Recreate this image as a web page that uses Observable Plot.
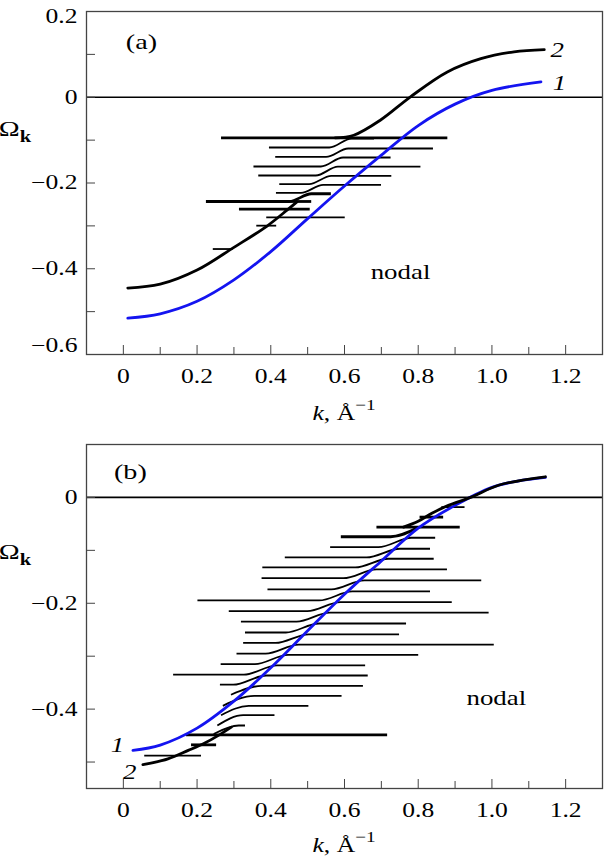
<!DOCTYPE html>
<html><head><meta charset="utf-8">
<script src="https://cdn.jsdelivr.net/npm/d3@7"></script>
<script src="https://cdn.jsdelivr.net/npm/@observablehq/plot@0.6"></script>
<style>
body{margin:0;background:#fff;}
#chart{width:605px;}
#chart svg{display:block;}
</style></head><body><div id="chart"></div>
<script>
// ---------- axes ----------
const xMajor = [0, 0.2, 0.4, 0.6, 0.8, 1.0, 1.2];
const xMinor = [0.1, 0.3, 0.5, 0.7, 0.9, 1.1];
const yMajorA = [0.2, 0, -0.2, -0.4, -0.6];
const yMinorA = [0.1, -0.1, -0.3, -0.5];
const yMajorB = [0, -0.2, -0.4];
const yMinorB = [-0.1, -0.3, -0.5];

// ---------- panel (a) ----------
const a1K = [0.012, 0.1, 0.2, 0.3, 0.4, 0.5, 0.6, 0.7, 0.8, 0.9, 1.0, 1.133];
const a1W = [-0.515, -0.505, -0.476, -0.426, -0.360, -0.283, -0.207, -0.135, -0.066, -0.016, 0.016, 0.036];
const a2LowK = [0.012, 0.1, 0.2, 0.3, 0.389, 0.444, 0.471];
const a2LowW = [-0.445, -0.436, -0.403, -0.350, -0.301, -0.2634, -0.244];
const a2UpK = [0.575, 0.625, 0.697, 0.779, 0.879, 0.970, 1.060, 1.142];
const a2UpW = [-0.0948, -0.0886, -0.0536, 0.001, 0.059, 0.090, 0.106, 0.111];
const aStepKL = [0.265, 0.395, 0.412, 0.353, 0.366, 0.423, 0.414, 0.224];
const aStepKR = [0.879, 0.680, 0.840, 0.725, 0.806, 0.727, 0.699, 0.563];
const aStepWL = [-0.0948, -0.1172, -0.1391, -0.1615, -0.1825, -0.2028, -0.2231, -0.2431];
const aStepWR = [-0.0948, -0.0965, -0.1195, -0.1405, -0.1620, -0.1834, -0.2044, -0.2251];
const aStepKS = [0.600, 0.589, 0.580, 0.566, 0.552, 0.534, 0.512, 0.480];
const aStepThick = [1, 0, 0, 0, 0, 0, 0, 1];
const aFlatK1 = [0.315, 0.389, 0.244, 0.362, 0.440];
const aFlatK2 = [0.507, 0.602, 0.298, 0.416, 0.511];
const aFlatW = [-0.2611, -0.2804, -0.354, -0.2995, -0.2431];
const aFlatThick = [1, 0, 0, 0, 1];

// ---------- panel (b) ----------
const b1K = [0.026, 0.1, 0.2, 0.3, 0.4, 0.5, 0.6, 0.7, 0.8, 0.9, 1.0, 1.07, 1.145];
const b1W = [-0.478, -0.468, -0.436, -0.385, -0.322, -0.252, -0.183, -0.120, -0.058, -0.015, 0.019, 0.031, 0.038];
const b2LowK = [0.053, 0.121, 0.176, 0.221, 0.257, 0.293];
const b2LowW = [-0.505, -0.494, -0.478, -0.464, -0.450, -0.434];
const b2UpK = [0.76, 0.80, 0.837, 0.882, 0.946, 1.018, 1.145];
const b2UpW = [-0.0561, -0.045, -0.030, -0.015, 0.001, 0.023, 0.039];
const bStepKL = [0.590, 0.561, 0.438, 0.377, 0.375, 0.391, 0.201, 0.286, 0.319, 0.330, 0.325, 0.307, 0.264, 0.135, 0.262, 0.292, 0.270, 0.265, 0.255, 0.245];
const bStepKR = [0.800, 0.846, 0.832, 0.842, 0.878, 0.971, 0.832, 0.891, 0.991, 0.767, 0.748, 1.005, 0.800, 0.656, 0.663, 0.650, 0.592, 0.502, 0.410, 0.330];
const bStepWL = [-0.0743, -0.0940, -0.1134, -0.1323, -0.1526, -0.1739, -0.1947, -0.2149, -0.2348, -0.2552, -0.2750, -0.2953, -0.3151, -0.3350, -0.3539, -0.3728, -0.3938, -0.4115, -0.4310, -0.4470];
const bStepWR = [-0.0570, -0.0762, -0.0970, -0.1159, -0.1361, -0.1569, -0.1777, -0.1979, -0.2178, -0.2382, -0.2586, -0.2783, -0.2974, -0.3172, -0.3365, -0.3560, -0.3749, -0.3938, -0.4115, -0.4310];
const bStepKS = [0.770, 0.737, 0.705, 0.674, 0.642, 0.609, 0.576, 0.544, 0.515, 0.486, 0.458, 0.431, 0.402, 0.372, 0.343, 0.330, 0.310, 0.295, 0.280, 0.268];
const bStepThick = [1, 0, 0, 0, 0, 0, 0, 0, 0, 0, 0, 0, 0, 0, 0, 0, 0, 0, 0, 0];
const bFlatK1 = [0.864, 0.805, 0.688, 0.171, 0.185, 0.058];
const bFlatK2 = [0.927, 0.869, 0.914, 0.717, 0.253, 0.212];
const bFlatW = [-0.0183, -0.0372, -0.0561, -0.4486, -0.4675, -0.4877];
const bFlatThick = [0, 1, 1, 1, 1, 0];

// ---------- helpers ----------
const BLUE = "#1414f0";
const FONT = "'Liberation Serif','Times New Roman',serif";
const pts = (K, W) => K.map((k, i) => ({k, w: W[i]}));
function stepRows(KL, KR, WL, WR, KS, TH, half) {
  const rows = [];
  KL.forEach((kl, i) => {
    const p = [[kl, WL[i]]];
    if (WL[i] !== WR[i]) {
      const a = KS[i] - half, b = KS[i] + half;
      if (a > kl + 0.005) p.push([a, WL[i]]);
      if (b < KR[i] - 0.005) p.push([b, WR[i]]);
    }
    p.push([KR[i], WR[i]]);
    p.forEach(([k, w]) => rows.push({line: i, k, w, thick: TH[i]}));
  });
  return rows;
}
const flatRows = (K1, K2, W, TH) => K1.map((k1, i) => ({k1, k2: K2[i], w: W[i], thick: TH[i]}));
const fmtX = d => d === 0 ? "0" : d.toFixed(1);
const fmtY = d => d === 0 ? "0" : (d < 0 ? "\u2212" : "") + Math.abs(d).toFixed(1);

function axesMarks(yMajor, yMinor, labelAdj) {
  const plain = yMajor.filter(v => !(String(v) in labelAdj));
  const marks = [
    Plot.axisX(xMajor, {anchor: "bottom", tickSize: 9, dy: -9, tickFormat: () => "", label: null, stroke: "#444"}),
    Plot.axisX(xMinor, {anchor: "bottom", tickSize: 7, dy: -7, tickFormat: () => "", label: null, stroke: "#444"}),
    Plot.axisX(xMajor, {anchor: "bottom", tickSize: 0, tickPadding: 14, tickFormat: fmtX, label: null, fontSize: 20}),
    Plot.axisY(yMajor, {anchor: "left", tickSize: 9, dx: 9, tickFormat: () => "", label: null, stroke: "#444"}),
    Plot.axisY(yMinor, {anchor: "left", tickSize: 9, dx: 9, tickFormat: () => "", label: null, stroke: "#444"}),
    Plot.axisY(plain, {anchor: "left", tickSize: 0, tickPadding: 9, tickFormat: fmtY, label: null, fontSize: 20})
  ];
  for (const v in labelAdj) {
    marks.push(Plot.axisY([+v], {anchor: "left", tickSize: 0, tickPadding: 9, tickFormat: fmtY, label: null, fontSize: 20, dy: labelAdj[v]}));
  }
  return marks;
}

function panel({height, mt, mb, yDomain, yMajor, yMinor, labelAdj, steps, flats, c1, c2parts, blueOnTop, texts}) {
  const curve2 = c2parts.map(p => Plot.line(p, {x: "k", y: "w", curve: "catmull-rom", stroke: "black", strokeWidth: 2.8}));
  const blue = Plot.line(c1, {x: "k", y: "w", curve: "catmull-rom", stroke: BLUE, strokeWidth: 2.8});
  return Plot.plot({
    width: 605, height,
    marginTop: mt, marginBottom: mb, marginLeft: 86, marginRight: 3,
    x: {domain: [-0.1, 1.3]},
    y: {domain: yDomain},
    style: {fontFamily: FONT, fontSize: "20px", background: "white", color: "black", overflow: "visible"},
    marks: [
      Plot.ruleY([0], {stroke: "black", strokeWidth: 1.6}),
      Plot.line(steps.filter(r => !r.thick), {x: "k", y: "w", z: "line", curve: "monotone-x", stroke: "black", strokeWidth: 1.8, strokeLinecap: "butt"}),
      Plot.line(steps.filter(r => r.thick), {x: "k", y: "w", z: "line", curve: "monotone-x", stroke: "black", strokeWidth: 2.8, strokeLinecap: "butt"}),
      Plot.ruleY(flats.filter(r => !r.thick), {y: "w", x1: "k1", x2: "k2", stroke: "black", strokeWidth: 1.8}),
      Plot.ruleY(flats.filter(r => r.thick), {y: "w", x1: "k1", x2: "k2", stroke: "black", strokeWidth: 2.8}),
      ...(blueOnTop ? [...curve2, blue] : [blue, ...curve2]),
      Plot.frame({stroke: "#444", strokeWidth: 1.3}),
      ...axesMarks(yMajor, yMinor, labelAdj),
      ...texts
    ]
  });
}

function decorate(plot, omegaY, xLabelY) {
  const svg = d3.select(plot);
  const sx = plot.scale("x");
  const t = svg.append("text").attr("font-family", FONT).attr("transform", `translate(15,${omegaY})`);
  t.append("tspan").attr("font-size", 22).text("\u03A9");
  t.append("tspan").attr("font-size", 16).attr("font-weight", "bold").attr("dy", 6).text("k");
  const t2 = svg.append("text").attr("font-family", FONT).attr("font-size", 20).attr("text-anchor", "middle")
    .attr("transform", `translate(${sx.apply(0.6)},${xLabelY})`);
  t2.append("tspan").attr("font-style", "italic").text("k");
  t2.append("tspan").text(", \u00C5");
  t2.append("tspan").attr("font-size", 15).attr("dy", -10).text("\u22121");
  // horizontally widened serif lettering as in the original figure
  svg.selectAll("text").each(function () {
    const tr = this.getAttribute("transform") || "";
    this.setAttribute("transform", tr + " scale(1.28,1)");
  });
}

const txt = (s, k, w, o = {}) => Plot.text([s], {x: k, y: w, text: d => d, fontSize: 20, ...o});

const plotA = panel({
  height: 430, mt: 11, mb: 76, yDomain: [-0.6, 0.2],
  yMajor: yMajorA, yMinor: yMinorA, labelAdj: {"0.2": 5, "-0.6": -9},
  steps: stepRows(aStepKL, aStepKR, aStepWL, aStepWR, aStepKS, aStepThick, 0.03),
  flats: flatRows(aFlatK1, aFlatK2, aFlatW, aFlatThick),
  c1: pts(a1K, a1W), c2parts: [pts(a2LowK, a2LowW), pts(a2UpK, a2UpW)], blueOnTop: true,
  texts: [
    txt("(a)", 0.049, 0.128, {fontSize: 22}),
    txt("2", 1.177, 0.109, {fontStyle: "italic", fontSize: 21}),
    txt("1", 1.183, 0.033, {fontStyle: "italic", fontSize: 21}),
    txt("nodal", 0.752, -0.409, {fontSize: 21})
  ]
});
decorate(plotA, 136, 420);

const plotB = panel({
  height: 431, mt: 14, mb: 73, yDomain: [-0.55, 0.1],
  yMajor: yMajorB, yMinor: yMinorB, labelAdj: {},
  steps: stepRows(bStepKL, bStepKR, bStepWL, bStepWR, bStepKS, bStepThick, 0.045),
  flats: flatRows(bFlatK1, bFlatK2, bFlatW, bFlatThick),
  c1: pts(b1K, b1W), c2parts: [pts(b2LowK, b2LowW), pts(b2UpK, b2UpW)], blueOnTop: false,
  texts: [
    txt("(b)", 0.019, 0.049, {fontSize: 22}),
    txt("1", -0.016, -0.469, {fontStyle: "italic", fontSize: 21}),
    txt("2", 0.017, -0.519, {fontStyle: "italic", fontSize: 21}),
    txt("nodal", 1.012, -0.380, {fontSize: 21})
  ]
});
decorate(plotB, 129, 422);

document.getElementById("chart").append(plotA, plotB);
</script>
</body></html>
